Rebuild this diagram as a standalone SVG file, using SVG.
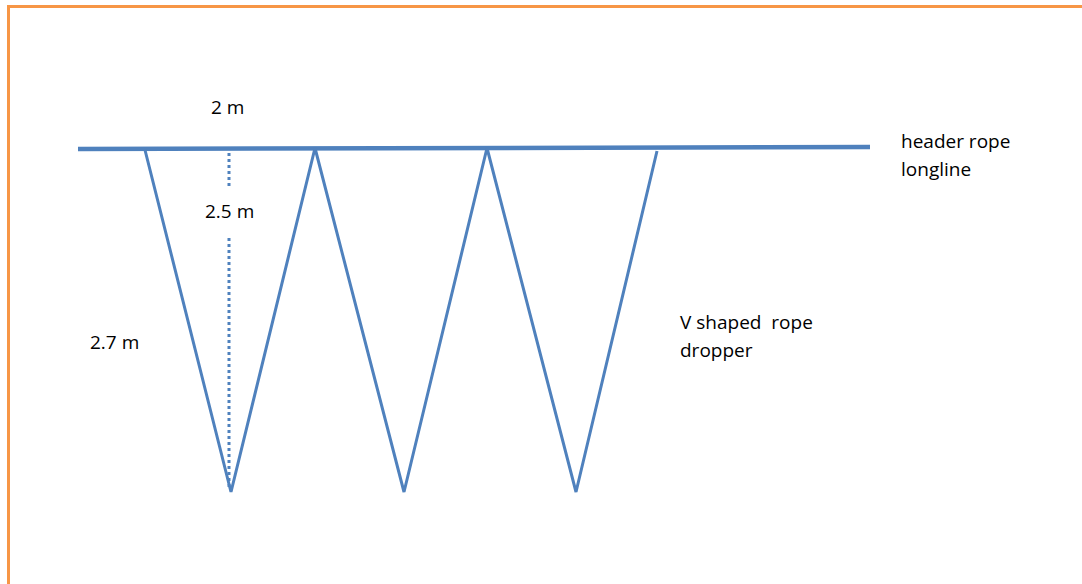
<svg xmlns="http://www.w3.org/2000/svg" width="1082" height="584" viewBox="0 0 1082 584">
<style>
.rope{stroke:#4F81BD;fill:none;stroke-linejoin:miter}
.dot{stroke:#4F81BD;stroke-width:3;stroke-dasharray:3 3;fill:none}
.lbl{font-family:"Open Sans","Liberation Sans",sans-serif;font-size:19px;fill:#000;white-space:pre}
</style>
<rect width="1082" height="584" fill="#fff"/>
<g id="frame"><path d="M8.5 584 V6.5 H1082" stroke="#F79646" stroke-width="3" fill="none"/></g>
<g id="connectors">
<line class="rope" x1="78" y1="149" x2="870" y2="147" stroke-width="4.5"/>
<polyline class="rope" stroke-width="3" points="145,150 231,492 315,148 404,492 487,148 576,492 657,151"/>
<line class="dot" x1="229" y1="153" x2="229" y2="186"/>
<line class="dot" x1="229" y1="238" x2="229" y2="490"/>
</g>
<g id="label-2m"><text class="lbl" x="211" y="114">2 m</text></g>
<g id="label-25m"><text class="lbl" x="205" y="218">2.5 m</text></g>
<g id="label-27m"><text class="lbl" x="90" y="349">2.7 m</text></g>
<g id="label-header"><text class="lbl" x="901" y="148">header rope</text><text class="lbl" x="901" y="176">longline</text></g>
<g id="label-dropper"><text class="lbl" x="680" y="329" xml:space="preserve">V shaped  rope</text><text class="lbl" x="680" y="357">dropper</text></g>
</svg>
